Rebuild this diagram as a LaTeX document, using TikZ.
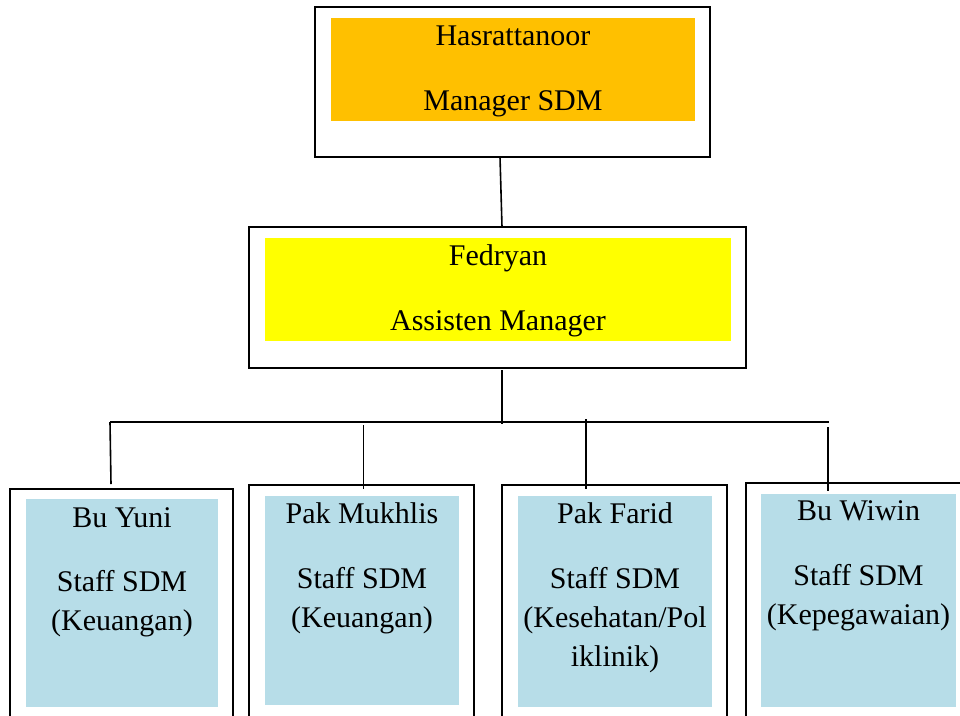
\documentclass[tikz,border=0pt]{standalone}
\usepackage{fontspec}
\setmainfont{Liberation Serif}
\definecolor{orgfill}{HTML}{FFC000}
\definecolor{yelfill}{HTML}{FFFF00}
\definecolor{bluefill}{HTML}{B7DDE8}
\begin{document}
\begin{tikzpicture}[x=1pt,y=-1pt,
  outerbox/.style={draw=black,line width=1.6pt,fill=white,inner sep=0pt,outer sep=0pt},
  innerbox/.style={fill=#1,draw=none,inner sep=0pt,outer sep=0pt},
  txt/.style={anchor=base,inner sep=0pt,font=\fontsize{30}{36}\selectfont},
  conn/.style={draw=black,line width=1.6pt}]
\useasboundingbox (0,0) rectangle (960,715);
\clip (0,0) rectangle (960,715);
% top box
\node[outerbox,minimum width=395pt,minimum height=150pt] (top) at (512.5,82) {};
\node[innerbox=orgfill,minimum width=364pt,minimum height=103pt] (topin) at (513,69.5) {};
\node[txt] (t1) at (513,45) {Hasrattanoor};
\node[txt] (t2) at (513,110) {Manager SDM};
% middle box
\node[outerbox,minimum width=497pt,minimum height=141pt] (mid) at (497.5,297.5) {};
\node[innerbox=yelfill,minimum width=466pt,minimum height=103pt] (midin) at (498,289.5) {};
\node[txt] (m1) at (498,265) {Fedryan};
\node[txt] (m2) at (498,330) {Assisten Manager};
% bottom boxes
\node[outerbox,minimum width=223pt,minimum height=256pt] (b1) at (121.5,617) {};
\node[innerbox=bluefill,minimum width=192pt,minimum height=208pt] (b1in) at (122,603) {};
\node[txt] (b1a) at (122,527) {Bu Yuni};
\node[txt] (b1b) at (122,591) {Staff SDM};
\node[txt] (b1c) at (122,630) {(Keuangan)};

\node[outerbox,minimum width=225pt,minimum height=260pt] (b2) at (361.5,615) {};
\node[innerbox=bluefill,minimum width=194pt,minimum height=209pt] (b2in) at (362,600.5) {};
\node[txt] (b2a) at (362,523) {Pak Mukhlis};
\node[txt] (b2b) at (362,588) {Staff SDM};
\node[txt] (b2c) at (362,627) {(Keuangan)};

\node[outerbox,minimum width=225pt,minimum height=260pt] (b3) at (614.5,615) {};
\node[innerbox=bluefill,minimum width=194pt,minimum height=211pt] (b3in) at (615,601.5) {};
\node[txt] (b3a) at (615,523) {Pak Farid};
\node[txt] (b3b) at (615,588) {Staff SDM};
\node[txt] (b3c) at (615,627) {(Kesehatan/Pol};
\node[txt] (b3d) at (615,666) {iklinik)};

\node[outerbox,minimum width=229pt,minimum height=262pt] (b4) at (860.5,614) {};
\node[innerbox=bluefill,minimum width=195pt,minimum height=213pt] (b4in) at (858.5,600.5) {};
\node[txt] (b4a) at (858.5,520) {Bu Wiwin};
\node[txt] (b4b) at (858.5,585) {Staff SDM};
\node[txt] (b4c) at (858.5,624) {(Kepegawaian)};
% connectors
\coordinate (busL) at (110,422);
\coordinate (busR) at (829,422);
\coordinate (busM) at (502,424);
\coordinate (d2s) at (363.5,425);
\coordinate (d3s) at (586,419);
\coordinate (d4s) at (828,427);
\draw[conn] ([xshift=-12.5pt]top.south) -- ([xshift=4.5pt]mid.north);
\draw[conn] ([xshift=4.5pt,yshift=-2pt]mid.south) -- (busM);
\draw[conn] (busL) -- (busR);
\draw[conn] (busL) -- ([xshift=-10.5pt,yshift=5pt]b1.north);
\draw[conn] (d2s) -- ([xshift=2pt,yshift=-4pt]b2.north);
\draw[conn] (d3s) -- ([xshift=-28.5pt,yshift=-4pt]b3.north);
\draw[conn] (d4s) -- ([xshift=-32.5pt,yshift=-8pt]b4.north);
\end{tikzpicture}
\end{document}
